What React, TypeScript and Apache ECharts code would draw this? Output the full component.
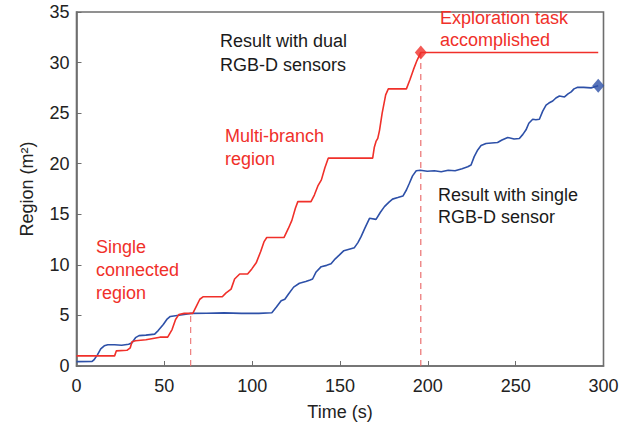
import React, { useEffect, useRef } from "react";
import * as echarts from "echarts";

const xTicks = [0, 50, 100, 150, 200, 250, 300];
const yTicks = [0, 5, 10, 15, 20, 25, 30, 35];

// Result with dual RGB-D sensors (time s, region m²)
const dualSeries: [number, number][] = [
  [0, 1.0], [21.7, 1.0], [22.7, 1.5], [28.7, 1.55], [30.6, 1.8], [31.6, 2.4], [33.6, 2.5], [39.5, 2.6],
  [47.5, 2.85], [51.9, 2.85], [54.4, 3.6], [56.4, 4.6], [58.3, 5.1], [61.3, 5.2], [66.2, 5.2], [68.2, 5.9],
  [70.2, 6.6], [72.2, 6.85], [83, 6.85], [85, 7.2], [88, 7.6], [90, 8.6], [92.9, 9.1], [97.4, 9.1],
  [99.8, 9.6], [102.3, 10.2], [104.8, 11.3], [106.8, 12.3], [108.3, 12.7], [118.1, 12.7], [120.6, 13.6],
  [122.6, 14.4], [124.6, 15.6], [126, 16.25], [133.5, 16.25], [135.4, 16.9], [137.4, 17.8], [139.4, 18.4],
  [141.4, 19.6], [143.3, 20.55], [168.6, 20.55], [169.5, 21.6], [170.5, 22.2], [171.5, 22.5], [172.5, 23.3],
  [174, 25], [176, 26.8], [177.5, 27.4], [187.8, 27.4], [189.8, 28.3], [191.8, 29.3], [193.8, 30.2],
  [196, 31.0], [297, 31.0],
];

// Result with single RGB-D sensor
const singleSeries: [number, number][] = [
  [0, 0.43], [8.9, 0.45], [9.9, 0.6], [11.9, 1.1], [13.8, 1.7], [15.8, 2.0], [17.8, 2.1], [21.7, 2.1],
  [25.7, 2.05], [29.7, 2.15], [31.6, 2.3], [33.6, 2.8], [35.6, 3.0], [39.5, 3.05], [44.5, 3.15], [46.5, 3.5],
  [49.4, 4.1], [51.4, 4.6], [53.4, 4.9], [57.3, 5.0], [61.3, 5.1], [65.2, 5.2], [74.1, 5.22], [84, 5.25],
  [93.9, 5.2], [103.8, 5.2], [111.2, 5.27], [113.7, 5.8], [116.5, 6.46], [118.6, 6.6], [120.6, 7.1],
  [123.6, 7.8], [126.9, 8.18], [130.5, 8.35], [133, 8.5], [134.4, 8.6], [136.4, 9.3], [139.3, 9.82],
  [142.4, 9.95], [144.9, 10.1], [147.3, 10.6], [149.7, 10.98], [152.2, 11.4], [155.2, 11.55], [158.2, 11.7],
  [160.2, 12.2], [162, 12.79], [164.1, 13.6], [166.8, 14.6], [170.5, 14.5], [173, 15.2], [175.3, 15.76],
  [177.9, 16.2], [179.9, 16.5], [182.9, 16.65], [185.8, 16.8], [187.8, 17.4], [189.5, 18.07], [191.3, 18.8],
  [193.4, 19.3], [195.7, 19.35], [199.7, 19.25], [203.7, 19.3], [207.6, 19.2], [211.6, 19.35], [215.5, 19.3],
  [219.5, 19.5], [222.7, 19.7], [224.6, 19.87], [226.4, 20.7], [228.4, 21.36], [230.3, 21.8], [233.1, 22.0],
  [236.3, 22.05], [239.7, 22.1], [242.2, 22.35], [245.5, 22.6], [249.1, 22.45], [252.1, 22.5], [254.1, 22.9],
  [255.9, 23.35], [257.5, 24.0], [259.7, 24.4], [261.5, 24.35], [263.5, 24.4], [265.4, 25.2], [267.3, 25.8],
  [268.9, 26.0], [271.1, 26.2], [272.9, 26.5], [274.9, 26.7], [277.8, 26.6], [279.8, 26.9], [281.6, 27.1],
  [283.2, 27.4], [285.3, 27.55], [288.7, 27.55], [292.9, 27.5], [297, 27.7],
];

const dualEnd: [number, number] = [196, 31.0];
const singleEnd: [number, number] = [297, 27.7];
const guide1: [number, number][] = [[65, 0], [65, 5.2]];
const guide2: [number, number][] = [[196, 0], [196, 31.0]];

const RED = "#f0302a";
const BLUE = "#2d50a8";
const FONT = "Liberation Sans, Arial, sans-serif";
const FRAME = "#6e6e6e";

export default function App() {
  const ref = useRef<HTMLDivElement>(null);
  useEffect(() => {
    if (!ref.current) return;
    const chart = echarts.init(ref.current, null, { renderer: "svg" });
    const textStyle = (color: string, lh: number) => ({
      fill: color,
      fontSize: 18,
      fontFamily: FONT,
      lineHeight: lh,
      textVerticalAlign: "top",
    });
    chart.setOption({
      animation: false,
      backgroundColor: "#fff",
      grid: { left: 76.5, right: 36.5, top: 12, bottom: 63, show: true, borderColor: FRAME, borderWidth: 1.6 },
      xAxis: {
        type: "value",
        min: xTicks[0],
        max: xTicks[xTicks.length - 1],
        interval: 50,
        name: "Time (s)",
        nameLocation: "middle",
        nameGap: 37,
        nameTextStyle: { fontSize: 18, fontFamily: FONT, color: "#222" },
        axisLine: { show: true, lineStyle: { color: FRAME, width: 1.6 } },
        axisTick: { show: true, inside: true, length: 5, lineStyle: { color: FRAME } },
        axisLabel: { fontSize: 18, fontFamily: FONT, color: "#222", margin: 11 },
        splitLine: { show: false },
      },
      yAxis: {
        type: "value",
        min: yTicks[0],
        max: yTicks[yTicks.length - 1],
        interval: 5,
        name: "Region (m²)",
        nameLocation: "middle",
        nameGap: 41,
        nameTextStyle: { fontSize: 18, fontFamily: FONT, color: "#222" },
        axisLine: { show: true, lineStyle: { color: FRAME, width: 1.6 } },
        axisTick: { show: true, inside: true, length: 5, lineStyle: { color: FRAME } },
        axisLabel: { fontSize: 18, fontFamily: FONT, color: "#222", margin: 7 },
        splitLine: { show: false },
      },
      series: [
        {
          type: "line",
          data: guide1,
          showSymbol: false,
          lineStyle: { color: "#ec7070", width: 1.1, type: [6, 5] },
          z: 1,
        },
        {
          type: "line",
          data: guide2,
          showSymbol: false,
          lineStyle: { color: "#e86262", width: 1.1, type: [6, 5] },
          z: 1,
        },
        {
          type: "line",
          data: singleSeries,
          showSymbol: false,
          lineStyle: { color: BLUE, width: 1.6 },
          z: 3,
        },
        {
          type: "line",
          data: dualSeries,
          showSymbol: false,
          lineStyle: { color: RED, width: 1.6 },
          z: 3,
        },
        {
          type: "scatter",
          data: [dualEnd],
          symbol: "diamond",
          symbolSize: [12, 14],
          itemStyle: { color: RED },
          z: 5,
        },
        {
          type: "scatter",
          data: [singleEnd],
          symbol: "diamond",
          symbolSize: [12, 14],
          itemStyle: { color: BLUE },
          z: 5,
        },
      ],
      graphic: [
        { type: "text", left: 96, top: 235, style: { text: "Single\nconnected\nregion", ...textStyle(RED, 23) } },
        { type: "text", left: 225, top: 124, style: { text: "Multi-branch\nregion", ...textStyle(RED, 23) } },
        { type: "text", left: 220, top: 29, style: { text: "Result with dual\nRGB-D sensors", ...textStyle("#1a1a1a", 24) } },
        { type: "text", left: 440, top: 7, style: { text: "Exploration task\naccomplished", ...textStyle(RED, 22) } },
        { type: "text", left: 438, top: 184, style: { text: "Result with single\nRGB-D sensor", ...textStyle("#1a1a1a", 22) } },
      ],
    });
    return () => chart.dispose();
  }, []);
  return <div ref={ref} style={{ position: "absolute", left: 0, top: 0, width: 640, height: 429 }} />;
}
